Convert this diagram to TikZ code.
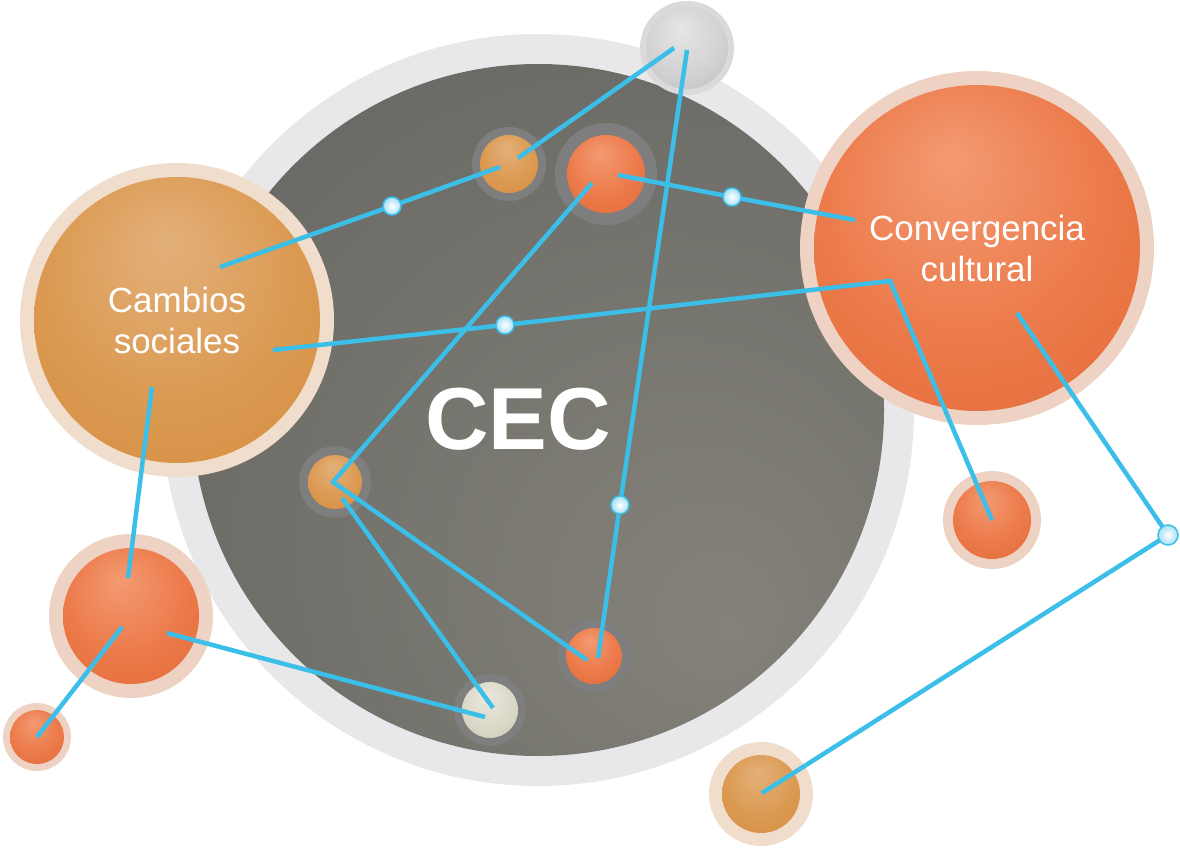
\documentclass[tikz,border=0pt]{standalone}
\usepackage{fontspec}
\setmainfont{Liberation Sans}
\usetikzlibrary{calc}
\definecolor{linkblue}{HTML}{3BBFE8}
\definecolor{dotouter}{HTML}{A6E0F4}
\definecolor{ringgray}{HTML}{E8E8EA}
\definecolor{redhi}{HTML}{F39A72}
\definecolor{redmid}{HTML}{EC7A4A}
\definecolor{redmidb}{HTML}{E46A38}
\definecolor{reddark}{HTML}{D2592A}
\definecolor{tanhi}{HTML}{E3B07A}
\definecolor{tanmid}{HTML}{DB9A52}
\definecolor{tanmidb}{HTML}{D68C40}
\definecolor{tandark}{HTML}{C77A30}
\definecolor{grayhi}{HTML}{E6E6E6}
\definecolor{graymid}{HTML}{D0D0D0}
\definecolor{graydark}{HTML}{A8A8A8}
\definecolor{creamhi}{HTML}{EAE8DC}
\definecolor{creammid}{HTML}{D9D6C6}
\definecolor{creamdark}{HTML}{B8B4A0}
\definecolor{cechi}{HTML}{84827A}
\definecolor{cecmid}{HTML}{72716B}
\definecolor{cecdark}{HTML}{5E5E5E}
\definecolor{cecedge}{HTML}{585858}
\definecolor{redhalo}{HTML}{EED2C4}
\definecolor{tanhalo}{HTML}{F0DDCB}
\definecolor{grayhalo}{HTML}{DADADC}
\definecolor{innerhalo}{HTML}{7E7E7E}
\pgfdeclareradialshading{redball}{\pgfpoint{-4bp}{14bp}}{color(0bp)=(redhi); color(22bp)=(redmid); color(40bp)=(redmidb); color(50bp)=(reddark)}
\pgfdeclareradialshading{tanball}{\pgfpoint{-2bp}{14bp}}{color(0bp)=(tanhi); color(22bp)=(tanmid); color(40bp)=(tanmidb); color(50bp)=(tandark)}
\pgfdeclareradialshading{grayball}{\pgfpoint{-4bp}{12bp}}{color(0bp)=(grayhi); color(25bp)=(graymid); color(50bp)=(graydark)}
\pgfdeclareradialshading{creamball}{\pgfpoint{-4bp}{12bp}}{color(0bp)=(creamhi); color(25bp)=(creammid); color(50bp)=(creamdark)}
\pgfdeclareradialshading{cecshade}{\pgfpoint{14bp}{-16bp}}{color(0bp)=(cechi); color(25bp)=(cecmid); color(52bp)=(cecdark); color(64bp)=(cecedge)}
\tikzset{
  ball/.style={circle,inner sep=0pt,minimum size=#1},
  halo/.style 2 args={preaction={draw=#1,line width=#2}},
  link/.style={draw=linkblue,line width=4.5pt},
  linkdot/.style={circle,inner sep=0pt,minimum size=18pt,draw=linkblue,line width=1.5pt,inner color=white,outer color=dotouter},
  bigtext/.style={text=white,align=center,font=\fontsize{35pt}{41pt}\selectfont}
}
\begin{document}
\begin{tikzpicture}[x=1pt,y=-1pt]
\useasboundingbox (0,0) rectangle (1180,848);
\fill[white] (0,0) rectangle (1180,848);
% central disc
\node[ball=752pt,fill=ringgray] (ring) at (538,410) {};
\node[ball=692pt,shading=cecshade] (cec) at (538,410) {};
\node[text=white,font=\fontsize{88pt}{88pt}\selectfont\bfseries] (ceclabel) at (518,419) {CEC};
% balls
\node[ball=286pt,halo={tanhalo}{28pt},shading=tanball,bigtext] (cambios) at (177,320) {Cambios\\sociales};
\node[ball=326pt,halo={redhalo}{28pt},shading=redball,bigtext] (conv) at (977,248) {Convergencia\\cultural};
\node[ball=82pt,halo={grayhalo}{12pt},shading=grayball] (graytop) at (687,48) {};
\node[ball=58pt,halo={innerhalo}{16pt},shading=tanball] (tantop) at (509,164) {};
\node[ball=78pt,halo={innerhalo}{24pt},shading=redball] (redtop) at (606,174) {};
\node[ball=54pt,halo={innerhalo}{18pt},shading=tanball] (tanmid) at (335,482) {};
\node[ball=56pt,halo={innerhalo}{16pt},shading=redball] (redbot) at (594,656) {};
\node[ball=56pt,halo={innerhalo}{16pt},shading=creamball] (cream) at (490,710) {};
\node[ball=78pt,halo={redhalo}{20pt},shading=redball] (redright) at (992,520) {};
\node[ball=136pt,halo={redhalo}{28pt},shading=redball] (redleft) at (131,616) {};
\node[ball=54pt,halo={redhalo}{14pt},shading=redball] (tiny) at (37,737) {};
\node[ball=78pt,halo={tanhalo}{26pt},shading=tanball] (tanbr) at (761,794) {};
% connector end points inside the balls
\coordinate (cs1) at (220,267);
\coordinate (cs2) at (273,350);
\coordinate (cs3) at (152,387);
\coordinate (tt1) at (500,167);
\coordinate (tt2) at (518,158);
\coordinate (gt1) at (674,48);
\coordinate (gt2) at (687,50);
\coordinate (rb1) at (598,658);
\coordinate (rb2) at (587,660);
\coordinate (rt1) at (618,175);
\coordinate (rt2) at (592,183);
\coordinate (cc1) at (855,220);
\coordinate (cc2) at (1017,313);
\coordinate (bend) at (890,281);
\coordinate (rs1) at (992,520);
\coordinate (tb1) at (762,793);
\coordinate (tm1) at (333,482);
\coordinate (tm2) at (342,498);
\coordinate (cr1) at (493,708);
\coordinate (cr2) at (485,717);
\coordinate (rl1) at (128,578);
\coordinate (rl2) at (167,633);
\coordinate (rl3) at (122,627);
\coordinate (ty1) at (37,737);
% dots
\coordinate (d1p) at (392,206);
\coordinate (d2p) at (620,505);
\coordinate (d3p) at (732,197);
\coordinate (d4p) at (505,325);
\coordinate (d5p) at (1168,535);
% connectors
\draw[link] (cs1) -- (d1p) -- (tt1);
\draw[link] (tt2) -- (gt1);
\draw[link] (gt2) -- (d2p) -- (rb1);
\draw[link] (rt1) -- (d3p) -- (cc1);
\draw[link] (cs2) -- (d4p) -- (bend) -- (rs1);
\draw[link,line join=miter] (rt2) -- (tm1) -- (rb2);
\draw[link] (tm2) -- (cr1);
\draw[link] (cs3) -- (rl1);
\draw[link] (rl2) -- (cr2);
\draw[link] (rl3) -- (ty1);
\draw[link] (cc2) -- (d5p) -- (tb1);
\node[linkdot] (d1) at (d1p) {};
\node[linkdot] (d2) at (d2p) {};
\node[linkdot] (d3) at (d3p) {};
\node[linkdot] (d4) at (d4p) {};
\node[linkdot,minimum size=20pt] (d5) at (d5p) {};
\end{tikzpicture}
\end{document}
